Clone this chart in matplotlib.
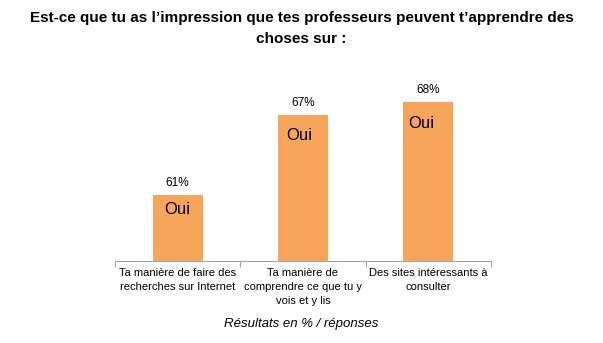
import matplotlib.pyplot as plt

plt.rcParams['font.family'] = ['Liberation Sans', 'DejaVu Sans']

# ─── Data ─────────────────────────────────────────────────────────────────────

categories = [
    "Ta manière de faire des\nrecherches sur Internet",
    "Ta manière de\ncomprendre ce que tu y\nvois et y lis",
    "Des sites intéressants à\nconsulter",
]
values = [61, 67, 68]
bar_texts = ["Oui", "Oui", "Oui"]

ORANGE = "#F7A55A"
GREY = "#A6A6A6"

# ─── Plot ─────────────────────────────────────────────────────────────────────

fig = plt.figure(figsize=(6.03, 3.43), dpi=100)
ax = fig.add_axes([0.1907, 0.2391, 0.6235, 0.62])

x = list(range(len(values)))
ax.bar(x, values, width=0.4, color=ORANGE, bottom=0)
ax.set_ylim(56.1, 72)
ax.set_xlim(-0.5, len(values) - 0.5)

for xi, v, t, dx, dy in zip(x, values, bar_texts, [0, -0.03, -0.06], [1.05, 1.5, 1.65]):
    ax.text(xi, v + 0.45, f"{v}%", ha="center", va="bottom", fontsize=8.5)
    ax.text(xi + dx, v - dy, t, ha="center", va="center", fontsize=12)

for side in ["top", "right", "left"]:
    ax.spines[side].set_visible(False)
ax.spines["bottom"].set_color(GREY)
ax.set_yticks([])

ax.set_xticks([-0.5, 0.5, 1.5, 2.5])
ax.set_xticklabels([])
ax.tick_params(axis="x", length=4, color=GREY, direction="out")
for xi, c in zip(x, categories):
    ax.text(xi, 56.1 - 0.5, c, ha="center", va="top", fontsize=8, linespacing=1.5)

fig.text(0.5, 0.967,
         "Est-ce que tu as l\u2019impression que tes professeurs peuvent t\u2019apprendre des\nchoses sur :",
         ha="center", va="top", fontsize=11, fontweight="bold", linespacing=1.6)
fig.text(0.5, 0.055, "Résultats en % / réponses", ha="center", va="center",
         fontsize=9.5, style="italic")

fig.savefig("out.png", dpi=100)
